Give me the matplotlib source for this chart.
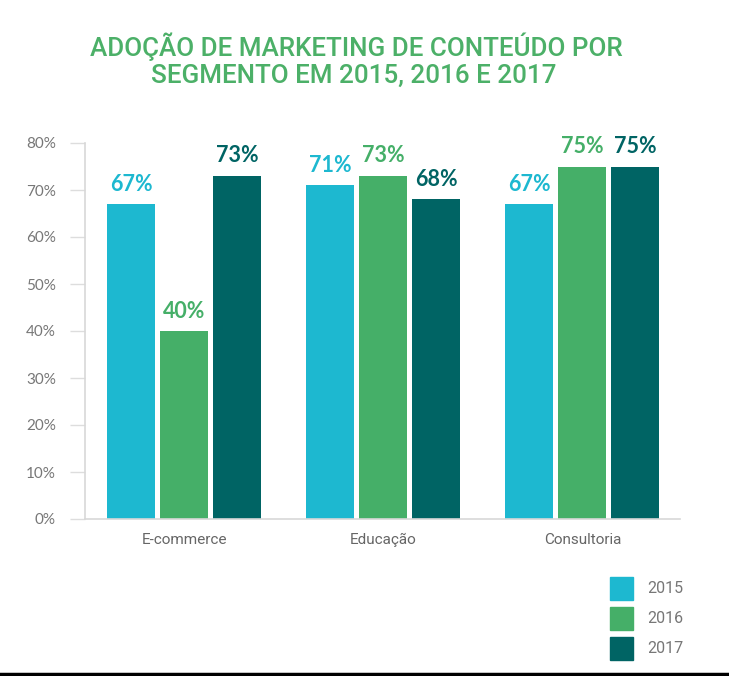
"""Adoção de marketing de conteúdo por segmento (2015-2017)."""

import matplotlib

matplotlib.use("Agg")
import matplotlib.pyplot as plt
import numpy as np
from matplotlib.lines import Line2D
from matplotlib.patches import Rectangle

categories = ["E-commerce", "Educação", "Consultoria"]
years = ["2015", "2016", "2017"]
values_2015 = [67, 71, 67]
values_2016 = [40, 73, 75]
values_2017 = [73, 68, 75]
y_ticks = [0, 10, 20, 30, 40, 50, 60, 70, 80]

colors = ["#1db8d0", "#45af68", "#006464"]
title_color = "#4cb068"
gray = "#6e6e6e"

fig = plt.figure(figsize=(7.29, 6.76), dpi=100)
ax = fig.add_axes([85 / 729, 1 - 519 / 676, 595 / 729, 376 / 676])

x = np.arange(len(categories))
width = 48 / 199
step = 53 / 199
for i, (year, vals) in enumerate(zip(years, [values_2015, values_2016, values_2017])):
    pos = x + (i - 1) * step
    ax.bar(pos, vals, width=width, color=colors[i], label=year)
    for px, v in zip(pos, vals):
        ax.text(px, v + 2.0, f"{v}%", ha="center", va="bottom", color=colors[i],
                fontsize=15.5, fontweight="bold", family="Lato")

ax.set_xlim(-0.497, 2.49)
ax.set_ylim(0, 80)
ax.set_yticks(y_ticks)
ax.set_yticklabels([f"{t}%" for t in y_ticks], family="Lato", fontsize=11, color="#777777")
ax.set_xticks(x)
ax.set_xticklabels(categories, family="Roboto", fontsize=11, color="#666666")
ax.tick_params(axis="y", length=11, width=1, color="#dddddd", pad=10)
ax.tick_params(axis="x", length=0, pad=10)
for side in ["top", "right"]:
    ax.spines[side].set_visible(False)
for side in ["left", "bottom"]:
    ax.spines[side].set_color("#d8d8d8")
    ax.spines[side].set_linewidth(1.2)

fig.text(0.489, 1 - 47 / 676, "ADOÇÃO DE MARKETING DE CONTEÚDO POR", ha="center", va="center",
         color=title_color, fontsize=18.7, fontweight="medium", family="Roboto")
fig.text(0.485, 1 - 76 / 676, "SEGMENTO EM 2015, 2016 E 2017", ha="center", va="center",
         color=title_color, fontsize=18.7, fontweight="medium", family="Roboto")

# legend drawn by hand in the bottom-right corner
for i, year in enumerate(years):
    top = 577 + i * 30
    fig.patches.append(Rectangle((610 / 729, 1 - (top + 23) / 676), 23 / 729, 23 / 676,
                                 transform=fig.transFigure, color=colors[i]))
    fig.text(647 / 729, 1 - (top + 11.5) / 676, year, ha="left", va="center",
             color="#777777", fontsize=11.5, family="Roboto")

fig.lines.append(Line2D([0, 1], [2 / 676, 2 / 676], transform=fig.transFigure, color="black", linewidth=2.5))

fig.savefig("out.png", dpi=100)
